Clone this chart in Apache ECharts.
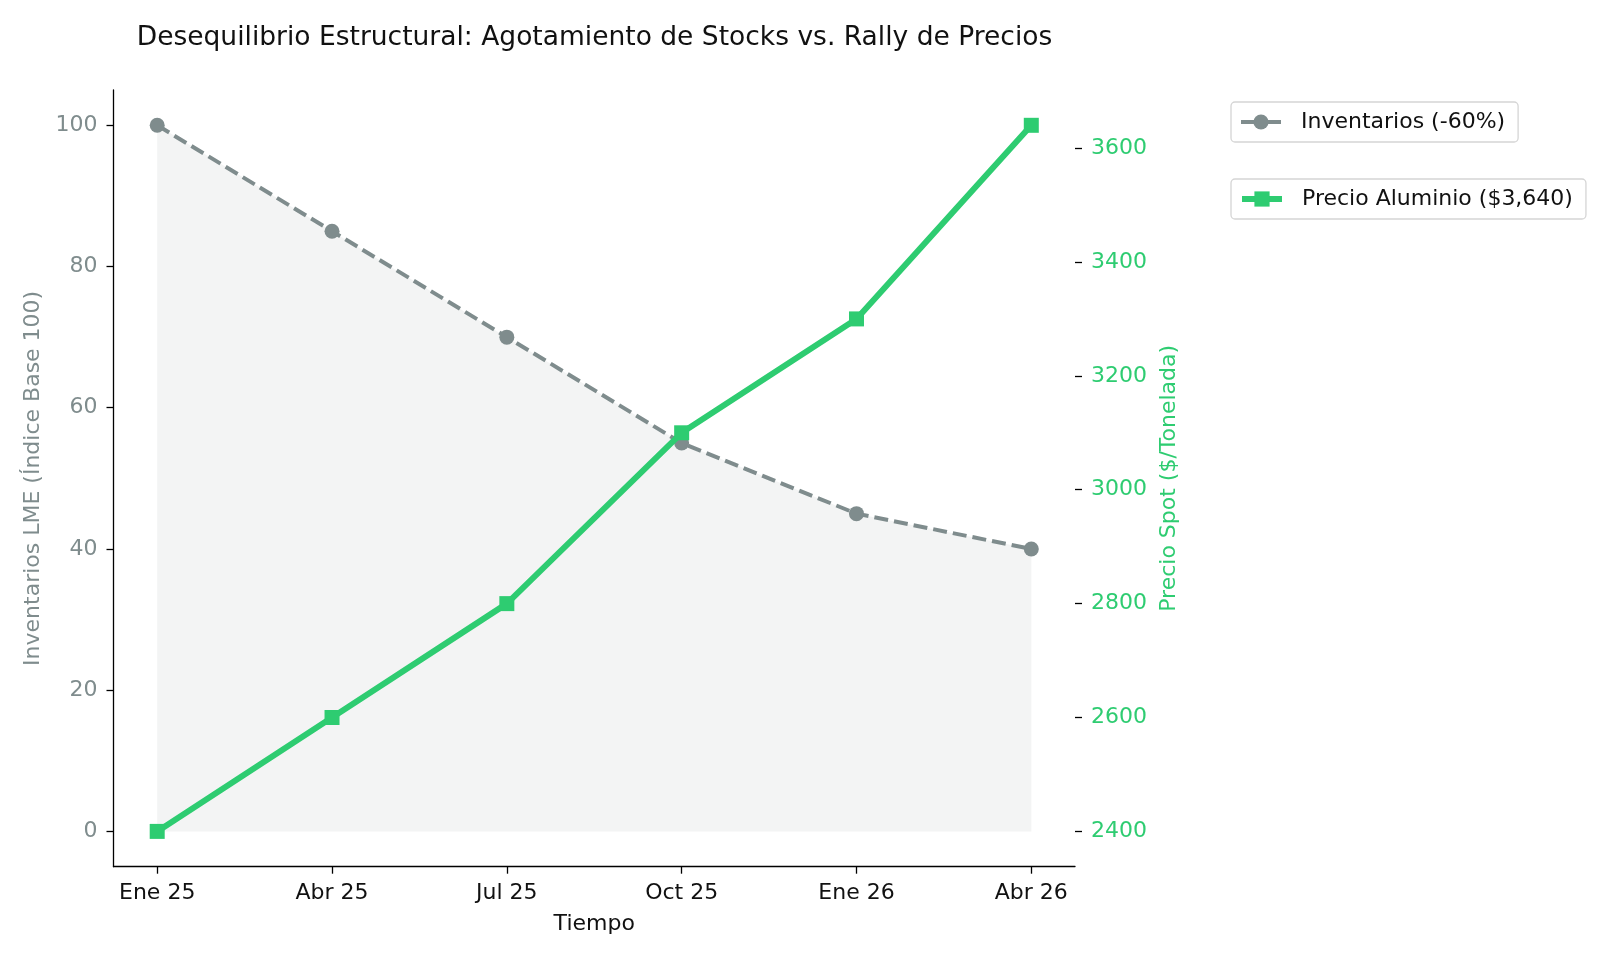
<!DOCTYPE html>
<html>
<head>
<meta charset="utf-8">
<script src="https://cdn.jsdelivr.net/npm/echarts@6/dist/echarts.min.js"></script>
<style>
html,body{margin:0;padding:0;background:#fff;}
#chart{width:1600px;height:960px;}
</style>
</head>
<body>
<div id="chart"></div>
<script>
const categories = ['Ene 25', 'Abr 25', 'Jul 25', 'Oct 25', 'Ene 26', 'Abr 26'];
const inventarios = [100, 85, 70, 55, 45, 40];
const precio = [2400, 2600, 2800, 3100, 3300, 3640];
const leftTicks = [0, 20, 40, 60, 80, 100];
const rightTicks = [2400, 2600, 2800, 3000, 3200, 3400, 3600];
const xTicks = [0, 1, 2, 3, 4, 5];
const nameInv = 'Inventarios (-60%)';
const namePrecio = 'Precio Aluminio ($3,640)';

const FONT = 'DejaVu Sans';
const GRAY = '#7f8c8d';
const GREEN = '#2ecc71';

const chart = echarts.init(document.getElementById('chart'));

const legendBase = {
  orient: 'vertical',
  left: 1231,
  padding: [9, 13, 9, 8],
  itemWidth: 40,
  itemHeight: 19,
  borderColor: '#d5d5d5',
  borderWidth: 1.3,
  borderRadius: 4,
  backgroundColor: '#fff',
  textStyle: { fontFamily: FONT, fontSize: 22, color: '#111', padding: [0, 0, 0, 15] }
};

chart.setOption({
  animation: false,
  backgroundColor: '#fff',
  textStyle: { fontFamily: FONT },
  title: {
    text: 'Desequilibrio Estructural: Agotamiento de Stocks vs. Rally de Precios',
    left: 589.5,
    top: 20,
    textAlign: 'center',
    textStyle: { fontFamily: FONT, fontSize: 26.5, fontWeight: 'normal', color: '#111' }
  },
  legend: [
    Object.assign({}, legendBase, { top: 102, data: [nameInv], lineStyle: { type: 'solid', width: 4 } }),
    Object.assign({}, legendBase, { top: 179, data: [namePrecio], lineStyle: { type: 'solid', width: 6 } })
  ],
  grid: { left: 113.5, right: 525, top: 90, bottom: 93.3, containLabel: false },
  xAxis: {
    type: 'value',
    min: -0.25,
    max: 5.25,
    name: 'Tiempo',
    nameLocation: 'middle',
    nameGap: 47,
    nameTextStyle: { fontFamily: FONT, fontSize: 22, color: '#111' },
    axisLine: { show: true, onZero: false, lineStyle: { color: '#000', width: 1.3 } },
    axisTick: { show: true, length: 7, lineStyle: { color: '#000', width: 1.3 }, customValues: xTicks },
    axisLabel: {
      fontFamily: FONT, fontSize: 22, color: '#111', margin: 16,
      customValues: xTicks,
      formatter: v => categories[Math.round(v)]
    },
    splitLine: { show: false }
  },
  yAxis: [
    {
      type: 'value',
      position: 'left',
      min: -5,
      max: 105,
      name: 'Inventarios LME (Índice Base 100)',
      nameLocation: 'middle',
      nameGap: 66,
      nameTextStyle: { fontFamily: FONT, fontSize: 22, color: GRAY },
      axisLine: { show: true, onZero: false, lineStyle: { color: '#000', width: 1.3 } },
      axisTick: { show: true, length: 7, lineStyle: { color: '#000', width: 1.3 }, customValues: leftTicks },
      axisLabel: { fontFamily: FONT, fontSize: 22, color: GRAY, margin: 16, customValues: leftTicks },
      splitLine: { show: false }
    },
    {
      type: 'value',
      position: 'right',
      min: 2338,
      max: 3702,
      name: 'Precio Spot ($/Tonelada)',
      nameLocation: 'middle',
      nameRotate: 90,
      nameGap: 72,
      nameTextStyle: { fontFamily: FONT, fontSize: 22, color: GREEN },
      axisLine: { show: false, onZero: false },
      axisTick: { show: true, length: 7, lineStyle: { color: '#000', width: 1.3 }, customValues: rightTicks },
      axisLabel: { fontFamily: FONT, fontSize: 22, color: GREEN, margin: 16, customValues: rightTicks, formatter: v => String(v) },
      splitLine: { show: false }
    }
  ],
  series: [
    {
      name: nameInv,
      type: 'line',
      yAxisIndex: 0,
      data: inventarios.map((v, i) => [i, v]),
      symbol: 'circle',
      symbolSize: 15,
      itemStyle: { color: GRAY },
      lineStyle: { color: GRAY, width: 4, type: [14, 6] },
      areaStyle: { color: 'rgba(127,140,141,0.135)', origin: 'auto' },
      z: 2
    },
    {
      name: namePrecio,
      type: 'line',
      yAxisIndex: 1,
      data: precio.map((v, i) => [i, v]),
      symbol: 'rect',
      symbolSize: 15,
      itemStyle: { color: GREEN },
      lineStyle: { color: GREEN, width: 6 },
      z: 3
    }
  ]
});
</script>
</body>
</html>
